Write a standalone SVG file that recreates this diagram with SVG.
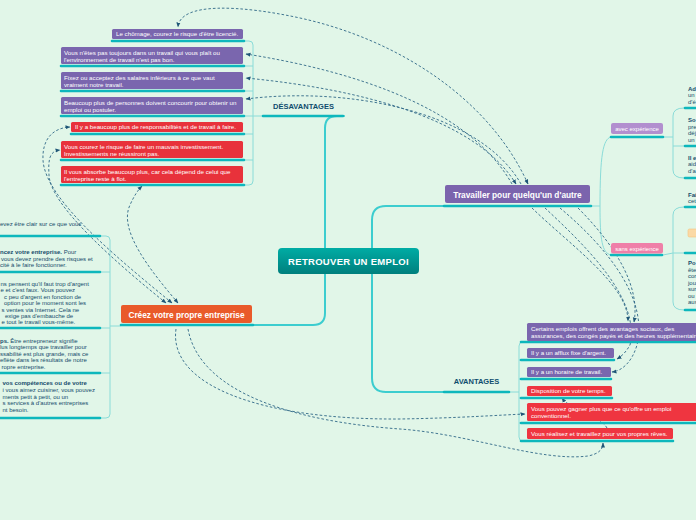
<svg xmlns="http://www.w3.org/2000/svg" width="696" height="520" viewBox="0 0 696 520">
<defs>
<linearGradient id="cg" x1="0" y1="0" x2="0" y2="1"><stop offset="0" stop-color="#00aca4"/><stop offset="1" stop-color="#007f7d"/></linearGradient>
<marker id="ah" viewBox="0 0 10 10" refX="9" refY="5" markerWidth="5" markerHeight="5" markerUnits="userSpaceOnUse" orient="auto-start-reverse"><path d="M0,1 L10,5 L0,9 z" fill="#1f5677"/></marker>
</defs>
<style>
.tr{fill:none;stroke:#3ccdcf;stroke-width:2;stroke-linecap:round}
.th{fill:none;stroke:#8adcd8;stroke-width:1}
.ul{fill:none;stroke:#0db7bc;stroke-width:2.6;stroke-linecap:round}
.rel{fill:none;stroke:#2f6887;stroke-width:0.9;stroke-dasharray:2.6 2;marker-end:url(#ah)}
.rs{marker-start:url(#ah)}
.pu{fill:#7a66ae}
.rd{fill:#e8323b}
.rd2{fill:#ef3540}
text{font-family:"Liberation Sans",Arial,sans-serif}
.w{fill:#fff;font-size:6.2px}
.k{fill:#154b6b;font-size:6px}
.b{font-weight:bold}
.hd{fill:#0f4d6e;font-weight:bold;font-size:7.5px;text-anchor:middle}
.nt{fill:#fff;font-weight:bold;font-size:8.3px;text-anchor:middle}
.sm{fill:#fff;font-size:6px;text-anchor:middle}
</style>
<rect x="0" y="0" width="696" height="520" fill="#e1f6e8"/>

<g id="connectors">
<path class="tr" d="M344,116 L337,116 Q325,116 325,128 L325,313 Q325,325 313,325 L254,325"/>
<path class="tr" d="M443,206 L386,206 Q372,206 372,220 L372,378 Q372,392 386,392 L443,392"/>
<path class="th" d="M243,41 L249,41 Q253,41 253,45 L253,181 Q253,185 249,185 L243,185 M243,66 L253,66 M243,91 L253,91 M243,116 L262,116 M243,134 L253,134 M243,160 L253,160"/>
<path class="th" d="M100,236 L106,236 Q110,236 110,240 L110,414 Q110,418 106,418 L100,418 M100,272 L110,272 M100,328 L110,328 M100,373 L110,373 M110,326 L121,326"/>
<path class="th" d="M527,342 L523,342 Q519,342 519,346 L519,437 Q519,441 523,441 L527,441 M510,392 L519,392 M519,360 L527,360 M519,379 L527,379 M519,398 L527,398 M519,423 L527,423"/>
<path class="th" d="M592,206 L600,206 M611,137 C603,139 600,155 600,206 C600,240 602,253 611,255"/>
<path class="th" d="M664,137 L673,137 M684,108 Q673,108 673,116 L673,170 Q673,178 684,178 M673,146 L684,146"/>
<path class="th" d="M663,255 L673,253 M684,207 Q673,207 673,215 L673,302 Q673,310 684,310 M673,253 L684,253"/>

<path class="rel rs" d="M528,184 C490,100 400,40 300,18 C240,5 180,2 178,27"/>
<path class="rel" d="M512,184 C470,110 360,72 246,54"/>
<path class="rel rs" d="M516,184 C478,122 370,90 246,78"/>
<path class="rel" d="M521,184 C480,112 350,86 246,99"/>
<path class="rel" d="M532,208 C570,245 628,285 628,321"/>
<path class="rel" d="M545,208 C590,250 640,300 630,345 C626,352 622,356 617,359"/>
<path class="rel" d="M560,208 C610,250 648,300 637,345 C632,362 622,371 612,372"/>
<path class="rel" d="M578,208 C620,250 640,290 634,322"/>
<path class="rel" d="M607,428 C600,415 570,410 562,398"/>
<path class="rel" d="M176,329 C168,385 260,420 400,419 C460,418 500,415 525,414"/>
<path class="rel" d="M188,329 C200,395 300,422 400,429 C470,434 540,462 588,456 C598,454 603,450 603,443"/>
<path class="rel rs" d="M172,303 C120,260 45,200 43,160 C42,140 52,128 70,127"/>
<path class="rel rs" d="M166,303 C115,262 50,205 49,175 C48,158 50,151 60,150"/>
<path class="rel rs" d="M178,303 C150,270 118,230 130,205 C134,196 138,190 142,186"/>

<path class="ul" d="M112,41 L244,41 M61,66 L244,66 M61,91 L244,91 M61,116 L244,116 M71,134 L244,134 M61,160 L244,160 M61,185 L244,185"/>
<path class="ul" d="M263,116 L343,116 M444,392 L509,392 M444,206 L591,206 M121,325 L253,325 M611,137 L663,137 M611,255 L662,255"/>
<path class="ul" d="M-5,236 L100,236 M-5,272 L100,272 M-5,328 L100,328 M-5,373 L100,373 M-5,418 L100,418"/>
<path class="ul" d="M685,108 L700,108 M685,146 L700,146 M685,178 L700,178 M685,207 L700,207 M685,253 L700,253 M685,310 L700,310"/>
<path class="ul" d="M521,342 L700,342 M521,360 L614,360 M521,379 L611,379 M521,398 L612,398 M521,423 L700,423 M521,441 L673,441"/>
</g>

<g id="central"><rect x="278" y="248" width="141" height="26" rx="4" fill="url(#cg)"/><text x="348.5" y="265" fill="#fff" font-weight="bold" font-size="9.5" letter-spacing="0.3" text-anchor="middle">RETROUVER UN EMPLOI</text></g>
<g id="travailler"><rect x="445" y="185" width="145" height="18" rx="2" fill="#7b64ad"/><text class="nt" x="517.5" y="197.5">Travailler pour quelqu'un d'autre</text></g>
<g id="creez"><rect x="121" y="305" width="131" height="18" rx="2" fill="#e95a2a"/><text class="nt" x="186.5" y="318">Créez votre propre entreprise</text></g>
<g id="desavantages"><text class="hd" x="303.5" y="108.5">DÉSAVANTAGES</text></g>
<g id="avantages"><text class="hd" x="476.5" y="383.5">AVANTAGES</text></g>
<g id="avec"><rect x="611" y="123" width="52" height="11" rx="2" fill="#b28fcf"/><text class="sm" x="637" y="131">avec expérience</text></g>
<g id="sans"><rect x="611" y="243" width="52" height="10.5" rx="2" fill="#ef7fa8"/><text class="sm" x="637" y="250.5">sans expérience</text></g>

<g id="d1"><rect class="pu" x="112" y="29" width="131" height="10" rx="1.5"/><text class="w" x="116" y="36">Le chômage, courez le risque d'être licencié.</text></g>
<g id="d2"><rect class="pu" x="61" y="47" width="182" height="17" rx="1.5"/><text class="w" x="64" y="55">Vous n'êtes pas toujours dans un travail qui vous plaît ou</text><text class="w" x="64" y="62">l'environnement de travail n'est pas bon.</text></g>
<g id="d3"><rect class="pu" x="61" y="72" width="182" height="17" rx="1.5"/><text class="w" x="64" y="80">Fixez ou acceptez des salaires inférieurs à ce que vaut</text><text class="w" x="64" y="87">vraiment notre travail.</text></g>
<g id="d4"><rect class="pu" x="61" y="97" width="182" height="17" rx="1.5"/><text class="w" x="64" y="105">Beaucoup plus de personnes doivent concourir pour obtenir un</text><text class="w" x="64" y="112">emploi ou postuler.</text></g>
<g id="d5"><rect class="rd" x="71" y="122" width="172" height="10" rx="1.5"/><text class="w" x="75" y="129">Il y a beaucoup plus de responsabilités et de travail à faire.</text></g>
<g id="d6"><rect class="rd" x="61" y="141" width="182" height="17" rx="1.5"/><text class="w" x="64" y="149">Vous courez le risque de faire un mauvais investissement.</text><text class="w" x="64" y="156">Investissements ne réussiront pas.</text></g>
<g id="d7"><rect class="rd" x="61" y="166" width="182" height="17" rx="1.5"/><text class="w" x="64" y="174">Il vous absorbe beaucoup plus, car cela dépend de celui que</text><text class="w" x="64" y="181">l'entreprise reste à flot.</text></g>

<g id="a1"><rect class="pu" x="527" y="323" width="175" height="18" rx="1.5"/><text class="w" x="531" y="331">Certains emplois offrent des avantages sociaux, des</text><text class="w" x="531" y="338">assurances, des congés payés et des heures supplémentaires</text></g>
<g id="a2"><rect class="pu" x="527" y="348" width="87" height="10" rx="1.5"/><text class="w" x="531" y="355">Il y a un afflux fixe d'argent.</text></g>
<g id="a3"><rect class="pu" x="527" y="367" width="84" height="10" rx="1.5"/><text class="w" x="531" y="374">Il y a un horaire de travail.</text></g>
<g id="a4"><rect class="rd2" x="527" y="386" width="85" height="10" rx="1.5"/><text class="w" x="531" y="393">Disposition de votre temps.</text></g>
<g id="a5"><rect class="rd2" x="527" y="403" width="175" height="18" rx="1.5"/><text class="w" x="531" y="411">Vous pouvez gagner plus que ce qu'offre un emploi</text><text class="w" x="531" y="418">conventionnel.</text></g>
<g id="a6"><rect class="rd2" x="527" y="428" width="146" height="11" rx="1.5"/><text class="w" x="531" y="436">Vous réalisez et travaillez pour vos propres rêves.</text></g>

<g id="r1"><text class="k b" x="688" y="90.5">Ad</text><text class="k" x="688" y="97">un</text><text class="k" x="688" y="103.5">d'é</text></g>
<g id="r2"><text class="k b" x="688" y="122">So</text><text class="k" x="688" y="128.5">pre</text><text class="k" x="688" y="135">déj</text><text class="k" x="688" y="141.5">un</text></g>
<g id="r3"><text class="k b" x="688" y="159.5">Il e</text><text class="k" x="688" y="166">aid</text><text class="k" x="688" y="172.5">d'a</text></g>
<g id="r4"><text class="k b" x="688" y="197">Fai</text><text class="k" x="688" y="203">cet</text></g>
<g id="r5"><rect x="688" y="229" width="12" height="8" rx="1.5" fill="#fbd9a6" stroke="#f6c27c" stroke-width="0.6"/></g>
<g id="r6"><text class="k b" x="688" y="265">Po</text><text class="k" x="688" y="271.5">ête</text><text class="k" x="688" y="278">cor</text><text class="k" x="688" y="284.5">jou</text><text class="k" x="688" y="291">sur</text><text class="k" x="688" y="297.5">ou</text><text class="k" x="688" y="304">aus</text></g>

<g id="l1"><text class="k" x="0" y="226">evez être clair sur ce que vous</text></g>
<g id="l2"><text class="k" x="0" y="254.3"><tspan class="b">ncez votre entreprise.</tspan> Pour</text><text class="k" x="1" y="260.7">vous devez prendre des risques et</text><text class="k" x="0" y="267">cité à le faire fonctionner.</text></g>
<g id="l3"><text class="k" x="0.5" y="286">ns pensent qu'il faut trop d'argent</text><text class="k" x="0.5" y="292.4">e et c'est faux. Vous pouvez</text><text class="k" x="4" y="298.8">c peu d'argent en fonction de</text><text class="k" x="4" y="305.2">option pour le moment sont les</text><text class="k" x="1.5" y="311.6">s ventes via Internet. Cela ne</text><text class="k" x="5" y="318">exige pas d'embauche de</text><text class="k" x="1.5" y="324.4">e tout le travail vous-même.</text></g>
<g id="l4"><text class="k" x="0" y="342.7"><tspan class="b">ps.</tspan> Être entrepreneur signifie</text><text class="k" x="0" y="349.2">lus longtemps que travailler pour</text><text class="k" x="0" y="355.7">ssabilité est plus grande, mais ce</text><text class="k" x="0" y="362.2">eflète dans les résultats de notre</text><text class="k" x="1.5" y="368.7">ropre entreprise.</text></g>
<g id="l5"><text class="k b" x="2.5" y="385.3">vos compétences ou de votre</text><text class="k" x="2.5" y="392">i vous aimez cuisiner, vous pouvez</text><text class="k" x="2.5" y="398.7">ments petit à petit, ou un</text><text class="k" x="2.5" y="405.4">s services à d'autres entreprises</text><text class="k" x="2.5" y="412">nt besoin.</text></g>
</svg>
